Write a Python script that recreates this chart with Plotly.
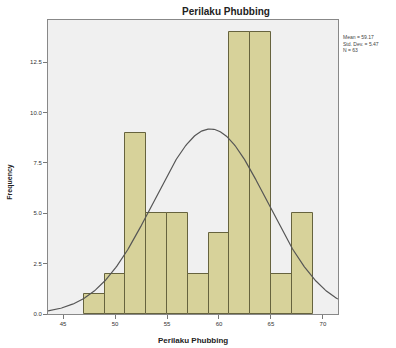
import numpy as np
import plotly.graph_objects as go

bin_starts = [47, 49, 51, 53, 55, 57, 59, 61, 63, 65, 67]
counts = [1, 2, 9, 5, 5, 2, 4, 14, 14, 2, 5]
bin_width = 2
mean = 59.17
std = 5.47
n = 63
x_ticks = [45, 50, 55, 60, 65, 70]
y_ticks = [0.0, 2.5, 5.0, 7.5, 10.0, 12.5]

centers = [s + bin_width / 2 for s in bin_starts]

xr = [43.55, 71.45]
xs = np.linspace(xr[0], xr[1], 300)
ys = n * bin_width / (std * np.sqrt(2 * np.pi)) * np.exp(-0.5 * ((xs - mean) / std) ** 2)

fig = go.Figure()
fig.add_trace(go.Bar(x=centers, y=counts, width=[bin_width] * len(counts),
                     marker=dict(color="#D7D29A", line=dict(color="#66633E", width=1)),
                     showlegend=False))
fig.add_trace(go.Scatter(x=xs, y=ys, mode="lines",
                         line=dict(color="#555555", width=1.2), showlegend=False))

fig.update_layout(
    width=396, height=348,
    margin=dict(l=48, r=58, t=20, b=34, autoexpand=False),
    paper_bgcolor="white", plot_bgcolor="#F0F0F0",
    font=dict(family="Liberation Sans, Arial", size=6, color="#333333"),
    bargap=0,
    title=dict(text="<b>Perilaku Phubbing</b>", x=226 / 396, xanchor="center",
               y=1 - 11 / 348, yanchor="middle",
               font=dict(size=10, color="#222222")),
    xaxis=dict(range=xr, tickvals=x_ticks, ticks="outside", ticklen=4, automargin=False,
               tickcolor="#777777", showgrid=False, zeroline=False,
               showline=True, linecolor="#888888", mirror=True, linewidth=1),
    yaxis=dict(range=[0, 14.6], tickvals=y_ticks, tickformat=".1f", ticks="outside",
               ticklen=4, tickcolor="#777777", showgrid=False, zeroline=False, automargin=False,
               showline=True, linecolor="#888888", mirror=True, linewidth=1),
)

fig.add_annotation(xref="paper", yref="paper", x=0.5, y=0, yshift=-26,
                   xanchor="center", yanchor="middle", showarrow=False,
                   text="<b>Perilaku Phubbing</b>", font=dict(size=8, color="#222222"))
fig.add_annotation(xref="paper", yref="paper", x=0, y=0.45, xshift=-38,
                   xanchor="center", yanchor="middle", showarrow=False, textangle=-90,
                   text="<b>Frequency</b>", font=dict(size=7, color="#222222"))
fig.add_annotation(xref="paper", yref="paper", x=1.0, y=1 - 12 / 294,
                   xanchor="left", yanchor="top", xshift=3, showarrow=False, align="left",
                   text=f"Mean = {mean:.2f}<br>Std. Dev. = {std:.2f}<br>N = {n}",
                   font=dict(size=5, color="#444444"))

fig.write_html("out.html", config={"displayModeBar": False},
               post_script="document.body.style.margin='0px';")
